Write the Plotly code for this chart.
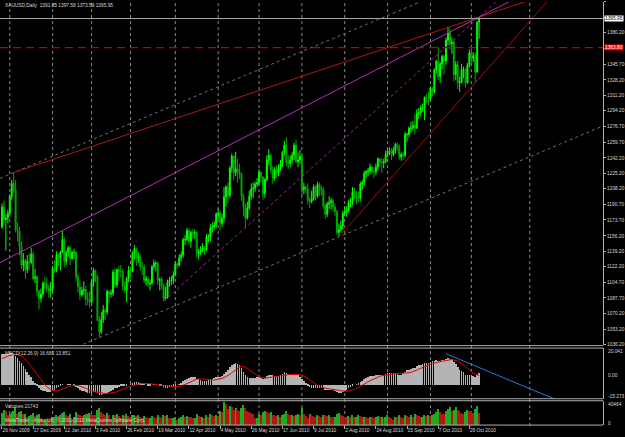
import plotly.graph_objects as go

W, H = 625, 437
PLOT_R = 607


def fx(px):
    return px / W


def fy(px):
    return 1 - px / H


# ---------------- data (XAUUSD daily, 25 Nov 2009 .. 5 Nov 2010) ----------------
opens = [
    1166, 1188, 1174, 1176, 1181, 1200, 1214, 1207, 1163, 1162,
    1145, 1124, 1129, 1119, 1128, 1127, 1136, 1109, 1111, 1095,
    1087, 1092, 1104, 1103, 1098, 1096, 1097, 1120, 1119, 1135,
    1132, 1138, 1152, 1128, 1138, 1143, 1131, 1138, 1138, 1111,
    1100, 1091, 1096, 1097, 1086, 1085, 1083, 1105, 1118, 1111,
    1063, 1050, 1064, 1074, 1072, 1095, 1092, 1093, 1116, 1102,
    1119, 1117, 1117, 1101, 1096, 1109, 1118, 1117, 1137, 1142,
    1132, 1133, 1122, 1122, 1107, 1109, 1103, 1104, 1122, 1126,
    1126, 1107, 1108, 1101, 1087, 1089, 1105, 1107, 1107, 1113,
    1125, 1124, 1132, 1135, 1152, 1152, 1162, 1150, 1160, 1159,
    1160, 1137, 1138, 1141, 1143, 1141, 1155, 1155, 1165, 1166,
    1168, 1180, 1181, 1170, 1176, 1199, 1210, 1201, 1231, 1244,
    1226, 1230, 1226, 1224, 1200, 1188, 1176, 1187, 1200, 1208,
    1209, 1213, 1215, 1226, 1221, 1203, 1218, 1240, 1245, 1229,
    1220, 1229, 1226, 1231, 1236, 1248, 1256, 1237, 1236, 1240,
    1245, 1256, 1238, 1240, 1244, 1207, 1210, 1208, 1195, 1194,
    1197, 1210, 1200, 1213, 1209, 1207, 1189, 1180, 1191, 1193,
    1195, 1188, 1183, 1160, 1163, 1167, 1181, 1183, 1184, 1193,
    1195, 1205, 1200, 1198, 1198, 1213, 1215, 1225, 1227, 1228,
    1232, 1227, 1227, 1232, 1241, 1238, 1237, 1238, 1246, 1250,
    1250, 1246, 1251, 1257, 1255, 1243, 1246, 1245, 1268, 1268,
    1275, 1275, 1278, 1275, 1291, 1292, 1297, 1297, 1309, 1308,
    1308, 1319, 1315, 1339, 1349, 1332, 1346, 1354, 1349, 1372,
    1380, 1368, 1370, 1334, 1345, 1325, 1326, 1340, 1340, 1325,
    1345, 1358, 1352, 1355, 1337, 1391.85,
]
highs = [
    1192, 1195, 1180, 1185, 1202, 1218, 1226, 1218, 1171, 1166,
    1150, 1137, 1131, 1135, 1137, 1143, 1139, 1120, 1113, 1097,
    1098, 1106, 1111, 1110, 1102, 1105, 1123, 1129, 1139, 1137,
    1140, 1162, 1155, 1140, 1145, 1145, 1140, 1142, 1139, 1114,
    1107, 1100, 1106, 1101, 1094, 1095, 1108, 1121, 1119, 1113,
    1068, 1072, 1080, 1077, 1097, 1096, 1097, 1119, 1121, 1120,
    1123, 1124, 1120, 1106, 1111, 1123, 1121, 1139, 1146, 1143,
    1138, 1136, 1127, 1125, 1112, 1112, 1108, 1124, 1130, 1128,
    1128, 1110, 1111, 1103, 1100, 1108, 1111, 1112, 1117, 1128,
    1127, 1136, 1139, 1154, 1157, 1165, 1165, 1162, 1164, 1163,
    1161, 1142, 1145, 1148, 1145, 1158, 1158, 1169, 1171, 1172,
    1182, 1186, 1184, 1181, 1210, 1212, 1215, 1233, 1247, 1245,
    1249, 1241, 1236, 1226, 1203, 1192, 1194, 1206, 1214, 1215,
    1216, 1220, 1230, 1228, 1222, 1220, 1245, 1252, 1247, 1233,
    1232, 1234, 1235, 1240, 1250, 1261, 1265, 1245, 1245, 1249,
    1259, 1262, 1248, 1251, 1245, 1215, 1212, 1214, 1199, 1206,
    1213, 1212, 1216, 1215, 1212, 1210, 1192, 1194, 1200, 1198,
    1197, 1192, 1185, 1170, 1173, 1184, 1189, 1189, 1196, 1198,
    1210, 1209, 1206, 1205, 1216, 1218, 1228, 1229, 1231, 1236,
    1234, 1232, 1236, 1243, 1242, 1242, 1241, 1250, 1253, 1254,
    1253, 1254, 1259, 1259, 1257, 1248, 1249, 1271, 1270, 1277,
    1282, 1283, 1290, 1296, 1297, 1300, 1302, 1310, 1313, 1315,
    1321, 1320, 1341, 1350, 1365, 1348, 1356, 1356, 1375, 1387,
    1385, 1375, 1373, 1349, 1349, 1332, 1346, 1343, 1341, 1347,
    1362, 1365, 1359, 1358, 1393, 1397.58,
]
lows = [
    1164, 1168, 1140, 1170, 1180, 1196, 1204, 1160, 1150, 1135,
    1120, 1117, 1109, 1115, 1118, 1125, 1107, 1104, 1090, 1075,
    1083, 1089, 1097, 1094, 1088, 1088, 1094, 1115, 1116, 1123,
    1118, 1137, 1122, 1124, 1133, 1124, 1130, 1130, 1106, 1094,
    1085, 1089, 1091, 1079, 1080, 1077, 1082, 1100, 1105, 1062,
    1044, 1048, 1060, 1063, 1069, 1082, 1088, 1090, 1099, 1099,
    1106, 1110, 1096, 1093, 1083, 1105, 1110, 1116, 1130, 1123,
    1126, 1118, 1113, 1104, 1101, 1100, 1096, 1102, 1119, 1117,
    1102, 1096, 1097, 1084, 1085, 1087, 1100, 1102, 1103, 1112,
    1120, 1122, 1128, 1132, 1146, 1150, 1147, 1143, 1153, 1153,
    1132, 1130, 1135, 1138, 1135, 1139, 1149, 1150, 1160, 1162,
    1165, 1175, 1162, 1166, 1172, 1189, 1192, 1198, 1226, 1218,
    1222, 1215, 1219, 1195, 1178, 1165, 1174, 1185, 1196, 1198,
    1205, 1210, 1212, 1215, 1196, 1198, 1216, 1234, 1225, 1214,
    1217, 1220, 1222, 1228, 1232, 1244, 1233, 1230, 1232, 1236,
    1240, 1236, 1232, 1236, 1200, 1202, 1203, 1191, 1187, 1192,
    1195, 1195, 1198, 1200, 1201, 1186, 1175, 1177, 1186, 1185,
    1183, 1178, 1158, 1155, 1160, 1163, 1178, 1177, 1182, 1188,
    1190, 1197, 1191, 1193, 1194, 1207, 1212, 1220, 1222, 1224,
    1224, 1220, 1223, 1229, 1232, 1226, 1231, 1236, 1243, 1245,
    1240, 1244, 1247, 1250, 1240, 1239, 1240, 1243, 1260, 1265,
    1270, 1272, 1268, 1274, 1285, 1288, 1293, 1284, 1303, 1300,
    1306, 1310, 1313, 1335, 1328, 1325, 1340, 1334, 1345, 1366,
    1362, 1357, 1327, 1328, 1318, 1315, 1324, 1330, 1320, 1324,
    1342, 1345, 1348, 1325, 1336, 1373.59,
]
closes = [
    1188, 1174, 1176, 1181, 1200, 1214, 1207, 1163, 1162, 1145,
    1124, 1129, 1119, 1128, 1127, 1136, 1109, 1111, 1095, 1087,
    1092, 1104, 1103, 1098, 1096, 1097, 1120, 1119, 1135, 1132,
    1138, 1152, 1128, 1138, 1143, 1131, 1138, 1138, 1111, 1100,
    1091, 1096, 1097, 1086, 1085, 1083, 1105, 1118, 1111, 1063,
    1050, 1064, 1074, 1072, 1095, 1092, 1093, 1116, 1102, 1119,
    1117, 1117, 1101, 1096, 1109, 1118, 1117, 1137, 1142, 1132,
    1133, 1122, 1122, 1107, 1109, 1103, 1104, 1122, 1126, 1126,
    1107, 1108, 1101, 1087, 1089, 1105, 1107, 1107, 1113, 1125,
    1124, 1132, 1135, 1152, 1152, 1162, 1150, 1160, 1159, 1160,
    1137, 1138, 1141, 1143, 1141, 1155, 1155, 1165, 1166, 1168,
    1180, 1181, 1170, 1176, 1199, 1210, 1201, 1231, 1244, 1226,
    1230, 1226, 1224, 1200, 1188, 1176, 1187, 1200, 1208, 1209,
    1213, 1215, 1226, 1221, 1203, 1218, 1240, 1245, 1229, 1220,
    1229, 1226, 1231, 1236, 1248, 1256, 1237, 1236, 1240, 1245,
    1256, 1238, 1240, 1244, 1207, 1210, 1208, 1195, 1194, 1197,
    1210, 1200, 1213, 1209, 1207, 1189, 1180, 1191, 1193, 1195,
    1188, 1183, 1160, 1163, 1167, 1181, 1183, 1184, 1193, 1195,
    1205, 1200, 1198, 1198, 1213, 1215, 1225, 1227, 1228, 1232,
    1227, 1227, 1232, 1241, 1238, 1237, 1238, 1246, 1250, 1250,
    1246, 1251, 1257, 1255, 1243, 1246, 1245, 1268, 1268, 1275,
    1275, 1278, 1275, 1291, 1292, 1297, 1297, 1309, 1308, 1308,
    1319, 1315, 1339, 1349, 1332, 1346, 1354, 1349, 1372, 1380,
    1368, 1370, 1334, 1345, 1325, 1326, 1340, 1340, 1325, 1345,
    1358, 1352, 1355, 1337, 1391.85, 1395.95,
]
volumes = [
    21000, 26000, 24000, 17000, 19000, 22000, 25000, 31000, 20000, 23000,
    25000, 19000, 20000, 15000, 16000, 17000, 21000, 16000, 18000, 19000,
    12000, 7000, 9000, 10000, 10000, 8000, 14000, 15000, 17000, 16000,
    18000, 21000, 23000, 17000, 16000, 19000, 11000, 15000, 22000, 19000,
    18000, 16000, 17000, 19000, 20000, 21000, 19000, 18000, 17000, 27000,
    30000, 22000, 19000, 18000, 21000, 17000, 10000, 18000, 17000, 19000,
    16000, 13000, 17000, 16000, 19000, 16000, 14000, 17000, 18000, 16000,
    17000, 14000, 13000, 16000, 14000, 12000, 13000, 16000, 14000, 13000,
    17000, 14000, 12000, 18000, 16000, 17000, 13000, 12000, 13000, 14000,
    9000, 13000, 14000, 17000, 15000, 16000, 15000, 14000, 12000, 13000,
    20000, 16000, 14000, 15000, 13000, 17000, 14000, 19000, 18000, 16000,
    18000, 16000, 24000, 22000, 40464, 36000, 28000, 33000, 31000, 26000,
    30000, 27000, 24000, 29000, 35000, 30000, 25000, 22000, 21000, 19000,
    12000, 13000, 20000, 18000, 22000, 24000, 23000, 21000, 22000, 18000,
    17000, 16000, 17000, 15000, 18000, 19000, 24000, 19000, 17000, 18000,
    16000, 18000, 20000, 18000, 29000, 20000, 16000, 12000, 19000, 17000,
    16000, 15000, 17000, 16000, 15000, 18000, 17000, 16000, 17000, 15000,
    14000, 15000, 19000, 21000, 17000, 16000, 15000, 14000, 16000, 15000,
    17000, 14000, 15000, 17000, 16000, 14000, 15000, 14000, 13000, 15000,
    14000, 13000, 15000, 16000, 14000, 15000, 12000, 15000, 17000, 14000,
    13000, 9000, 15000, 14000, 17000, 15000, 13000, 18000, 16000, 15000,
    17000, 15000, 19000, 18000, 16000, 14000, 15000, 18000, 16000, 17000,
    16000, 18000, 20000, 22000, 28000, 22000, 20000, 19000, 24000, 28000,
    31000, 25000, 26000, 31000, 27000, 24000, 21000, 19000, 22000, 26000,
    25000, 23000, 21000, 28000, 33000, 21743,
]
macd_main = [
    44, 45, 45, 45, 46, 46, 45, 42, 39, 35,
    31, 27, 23, 19, 15, 11, 6, 2, -2, -5,
    -7, -8, -9, -10, -10, -10, -9, -7, -5, -3,
    -1, 1, 0, 0, 1, 1, 0, -1, -3, -5,
    -7, -8, -9, -10, -11, -12, -11, -10, -10, -12,
    -14, -14, -13, -13, -11, -10, -9, -7, -5, -4,
    -3, -2, -2, -2, -1, 0, 1, 3, 4, 4,
    4, 3, 2, 1, 0, -1, -1, 0, 1, 1,
    0, -1, -2, -3, -4, -4, -3, -3, -2, -1,
    0, 1, 3, 5, 7, 9, 10, 11, 11, 11,
    9, 8, 7, 6, 5, 6, 7, 8, 9, 10,
    11, 11, 11, 13, 16, 19, 22, 26, 29, 30,
    31, 30, 28, 24, 19, 14, 11, 10, 10, 10,
    10, 11, 11, 10, 8, 10, 13, 15, 15, 14,
    13, 13, 13, 14, 16, 18, 17, 16, 15, 15,
    16, 15, 14, 12, 8, 5, 2, -1, -3, -5,
    -5, -5, -4, -4, -4, -5, -7, -7, -7, -7,
    -7, -8, -10, -11, -11, -10, -9, -7, -5, -3,
    -1, 0, 1, 2, 4, 6, 8, 10, 12, 13,
    13, 13, 14, 15, 15, 15, 15, 16, 17, 17,
    17, 17, 17, 16, 15, 15, 17, 19, 21, 22,
    23, 24, 25, 27, 28, 29, 30, 31, 32, 32,
    33, 34, 35, 36, 35, 35, 36, 36, 38, 39,
    38, 37, 33, 30, 26, 22, 20, 18, 15, 14,
    14, 14, 13, 12, 15, 16.682,
]
macd_signal = [
    38, 39.5, 40.5, 41.5, 42.5, 43.3, 44, 44.3, 44.1, 43.1,
    41.6, 39.6, 37.1, 34.1, 30.7, 26.9, 22.9, 18.8, 14.7, 10.7,
    6.9, 3.4, 0.3, -2.4, -4.8, -6.6, -7.8, -8.3, -8.3, -7.9,
    -7.1, -6, -4.9, -3.8, -2.6, -1.4, -0.7, -0.2, -0.2, -0.7,
    -1.6, -2.4, -3.4, -4.7, -6, -7.3, -8.4, -9.2, -9.8, -10.3,
    -11, -11.6, -11.9, -12.1, -12, -11.9, -11.8, -11.4, -10.7, -9.6,
    -8.3, -7.1, -5.9, -4.9, -3.9, -2.9, -2, -1.1, -0.2, 0.6,
    1.2, 1.8, 2.2, 2.4, 2.4, 2.2, 1.8, 1.3, 1, 0.7,
    0.3, 0, -0.3, -0.7, -1, -1.3, -1.7, -2.1, -2.4, -2.6,
    -2.4, -2.1, -1.4, -0.4, 0.8, 2.1, 3.6, 5, 6.3, 7.6,
    8.4, 9, 9.2, 9.1, 8.7, 8.2, 7.8, 7.4, 7.2, 7.3,
    7.7, 8.1, 8.7, 9.6, 10.7, 12, 13.6, 15.4, 17.6, 19.7,
    21.9, 24, 25.7, 26.6, 26.6, 25.7, 24, 21.9, 19.7, 17.3,
    15.1, 13.2, 11.8, 10.8, 10.1, 10, 10.3, 10.9, 11.4, 11.9,
    12.1, 12.3, 12.7, 13.3, 14, 14.6, 14.8, 14.9, 15, 15.2,
    15.6, 15.8, 15.8, 15.3, 14.2, 12.9, 11.3, 9.6, 7.6, 5.2,
    3, 0.9, -0.9, -2.2, -3.2, -4, -4.7, -5.1, -5.3, -5.6,
    -5.8, -6.2, -6.9, -7.7, -8.3, -8.7, -8.9, -8.9, -8.7, -8.2,
    -7.4, -6.3, -5, -3.6, -2, -0.3, 1.3, 3, 4.7, 6.2,
    7.7, 9, 10.3, 11.6, 12.6, 13.3, 13.9, 14.3, 14.8, 15.2,
    15.7, 16, 16.2, 16.3, 16.3, 16.3, 16.4, 16.7, 17.1, 17.7,
    18.3, 19.1, 20.1, 21.4, 22.9, 24.2, 25.4, 26.6, 27.7, 28.7,
    29.7, 30.7, 31.6, 32.4, 33.1, 33.7, 34.2, 34.7, 35.3, 36,
    36.4, 36.7, 36.3, 35.8, 34.8, 33.2, 31.4, 29.2, 26.6, 23.9,
    21.3, 19.2, 17.3, 15.8, 15, 13.851,
]

date_tick_idx = [0, 16, 32, 48, 64, 80, 96, 112, 128, 144, 160, 176, 192, 208, 224, 240]
date_labels = ["26 Nov 2009", "17 Dec 2009", "12 Jan 2010", "3 Feb 2010", "26 Feb 2010",
               "19 Mar 2010", "12 Apr 2010", "4 May 2010", "26 May 2010", "17 Jun 2010",
               "9 Jul 2010", "2 Aug 2010", "24 Aug 2010", "15 Sep 2010", "7 Oct 2010",
               "29 Oct 2010"]
month_start_idx = [4, 26, 46, 66, 89, 111, 132, 154, 176, 198, 220, 241, 271]
price_ticks = [1414.20, 1397.20, 1380.20, 1363.20, 1345.70, 1328.20, 1311.20, 1294.20,
               1276.70, 1259.70, 1242.20, 1225.20, 1208.20, 1190.70, 1173.70, 1156.20,
               1139.20, 1122.20, 1104.70, 1087.70, 1070.20, 1053.20, 1036.20]
hidden_ticks = [1397.20, 1363.20]
bid_price = 1395.95
alert_price = 1363.80
title_text = "XAUUSD,Daily  1391.85 1397.58 1373.59 1395.95"
macd_text = "MACD(12,26,9) 16.682 13.851"
vol_text = "Volumes 21743"
macd_max_lbl, macd_zero_lbl, macd_min_lbl = "20.041", "0.00", "-15.273"
vol_max_lbl, vol_min_lbl = "40464", "0"

# trend lines: (bar0, price0, bar1, price1)
tl_red_top = (6, 1226, 245, 1397.58)
tl_magenta = (31, 1162, 245, 1397.58)
tl_magenta_dot = (83, 1084, 245, 1397.58)
tl_red_low = (173, 1155, 222, 1274)
tl_chan_low = (50, 1044, 173, 1155)
chan_high_anchor = (6, 1226)
tl_macd_blue = (228, 45, 284, -20.4)

# ---------------- figure ----------------
XMIN, XMAX = -1.02, 308.67
n = len(closes)
idx = list(range(n))
FONT = "Liberation Sans, Arial, sans-serif"
TXT = "#d8d8d8"
FS = 4.8

fig = go.Figure()

fig.add_trace(go.Candlestick(
    x=idx, open=opens, high=highs, low=lows, close=closes,
    increasing=dict(line=dict(color="#00ff00", width=1), fillcolor="#00ff00"),
    decreasing=dict(line=dict(color="#00a800", width=1), fillcolor="#00a800"),
    whiskerwidth=0, showlegend=False, hoverinfo="skip", xaxis="x", yaxis="y"))


def line_pts(tl, x_from, x_to):
    i0, p0, i1, p1 = tl
    s = (p1 - p0) / (i1 - i0)
    return [x_from, x_to], [p0 + s * (x_from - i0), p0 + s * (x_to - i0)]


def add_line(xs, ys, color, dash="solid", width=1, xa="x", ya="y"):
    fig.add_trace(go.Scatter(x=xs, y=ys, mode="lines", line=dict(color=color, width=width, dash=dash),
                             showlegend=False, hoverinfo="skip", xaxis=xa, yaxis=ya))


# channel (gray dotted)
cs = (tl_chan_low[3] - tl_chan_low[1]) / (tl_chan_low[2] - tl_chan_low[0])
xs, ys = line_pts(tl_chan_low, XMIN, XMAX)
add_line(xs, ys, "#6e6e6e", "dot")
hx, hp = chan_high_anchor
add_line([XMIN, XMAX], [hp + cs * (XMIN - hx), hp + cs * (XMAX - hx)], "#6e6e6e", "dot")

xs, ys = line_pts(tl_red_top, tl_red_top[0], XMAX)
add_line(xs, ys, "#b01818")
xs, ys = line_pts(tl_magenta, XMIN, XMAX)
add_line(xs, ys, "#b030b0")
xs, ys = line_pts(tl_magenta_dot, tl_magenta_dot[0], XMAX)
add_line(xs, ys, "#a028a0", "dot")
xs, ys = line_pts(tl_red_low, tl_red_low[0], XMAX)
add_line(xs, ys, "#a01010")

# MACD
fig.add_trace(go.Bar(x=idx, y=macd_main, marker=dict(color="#b4b4b4", line=dict(width=0)),
                     width=0.32, showlegend=False, hoverinfo="skip", xaxis="x2", yaxis="y2"))
add_line(idx, macd_signal, "#e00000", xa="x2", ya="y2")
xs, ys = line_pts(tl_macd_blue, tl_macd_blue[0], tl_macd_blue[2])
add_line(xs, ys, "#2a78d0", xa="x2", ya="y2")

# Volumes
vcol = ["#22a822"] + ["#22a822" if volumes[i] > volumes[i - 1] else "#b01818" for i in range(1, n)]
fig.add_trace(go.Bar(x=idx, y=volumes, marker=dict(color=vcol, line=dict(width=0)), width=0.7,
                     showlegend=False, hoverinfo="skip", xaxis="x3", yaxis="y3"))

shapes = []
for m in month_start_idx:
    shapes.append(dict(type="line", xref="x", yref="paper", x0=m, x1=m, y0=fy(429), y1=1,
                       line=dict(color="#8a8a8a", width=1, dash="dot"), layer="below"))
for ypx in (348, 350.5, 401.5, 403.5, 428):
    shapes.append(dict(type="line", xref="paper", yref="paper", x0=0, x1=fx(PLOT_R), y0=fy(ypx), y1=fy(ypx),
                       line=dict(color="#b0b0b0", width=1), layer="above"))
shapes.append(dict(type="line", xref="paper", yref="y", x0=0, x1=fx(PLOT_R), y0=bid_price, y1=bid_price,
                   line=dict(color="#a8a8a8", width=1)))
shapes.append(dict(type="line", xref="paper", yref="y", x0=0, x1=fx(PLOT_R), y0=alert_price, y1=alert_price,
                   line=dict(color="#c00000", width=1.3, dash="8px,5px")))

ann = []


def txt(x, y, s, **kw):
    d = dict(x=fx(x), y=fy(y), xref="paper", yref="paper", text=s, showarrow=False,
             xanchor="left", yanchor="middle", font=dict(family=FONT, size=FS, color=TXT))
    d.update(kw)
    ann.append(d)


txt(3, 5.5, title_text)
txt(3, 355.5, macd_text)
txt(3, 409, vol_text)
txt(3, 423, "MetaTrader - Alpari UK, \u00a9 2001-2010 MetaQuotes Software Corp.")
txt(610, 354, macd_max_lbl)
txt(610, 378, macd_zero_lbl)
txt(610, 399, macd_min_lbl)
txt(610, 407, vol_max_lbl)
txt(610, 426, vol_min_lbl)
ann.append(dict(x=fx(608), y=bid_price, xref="paper", yref="y", text="1395.95", showarrow=False,
                xanchor="left", yanchor="middle", bgcolor="#ffffff", borderpad=0,
                font=dict(family=FONT, size=FS, color="#000000")))
ann.append(dict(x=fx(608), y=alert_price, xref="paper", yref="y", text="%.2f" % alert_price, showarrow=False,
                xanchor="left", yanchor="middle", bgcolor="#ff0000", borderpad=0,
                font=dict(family=FONT, size=FS, color="#ffffff")))

tick_text = ["" if t in hidden_ticks else "%.2f" % t for t in price_ticks]

common_x = dict(range=[XMIN, XMAX], domain=[0, fx(PLOT_R)], showgrid=False, zeroline=False,
                fixedrange=True)
fig.update_layout(
    width=W, height=H, margin=dict(l=0, r=0, t=0, b=0),
    paper_bgcolor="#000000", plot_bgcolor="#000000",
    showlegend=False, bargap=0,
    xaxis=dict(**common_x, anchor="y", showticklabels=False, rangeslider=dict(visible=False)),
    xaxis2=dict(**common_x, anchor="y2", matches="x", showticklabels=False),
    xaxis3=dict(**common_x, anchor="y3", matches="x", tickmode="array", tickvals=date_tick_idx,
                ticktext=date_labels, ticklabelposition="outside right", ticks="outside", ticklen=3,
                tickangle=0, tickcolor="#b0b0b0", tickfont=dict(family=FONT, size=FS, color=TXT)),
    yaxis=dict(domain=[fy(347), fy(2)], range=[1036.2, 1414.2], side="right", anchor="x",
               tickmode="array", tickvals=price_ticks, ticktext=tick_text, ticks="outside", ticklen=2,
               tickcolor="#b0b0b0", tickfont=dict(family=FONT, size=FS, color=TXT),
               showgrid=False, zeroline=False, showline=True, linecolor="#b0b0b0", fixedrange=True),
    yaxis2=dict(domain=[fy(401.5), fy(350.5)], range=[-19.7, 53.1], side="right", anchor="x2",
                showticklabels=False, showgrid=False, zeroline=False, showline=True,
                linecolor="#b0b0b0", fixedrange=True),
    yaxis3=dict(domain=[fy(428), fy(403.5)], range=[0, 41500], side="right", anchor="x3",
                showticklabels=False, showgrid=False, zeroline=False, showline=True,
                linecolor="#b0b0b0", fixedrange=True),
    shapes=shapes, annotations=ann,
)

fig.write_html("out.html")
